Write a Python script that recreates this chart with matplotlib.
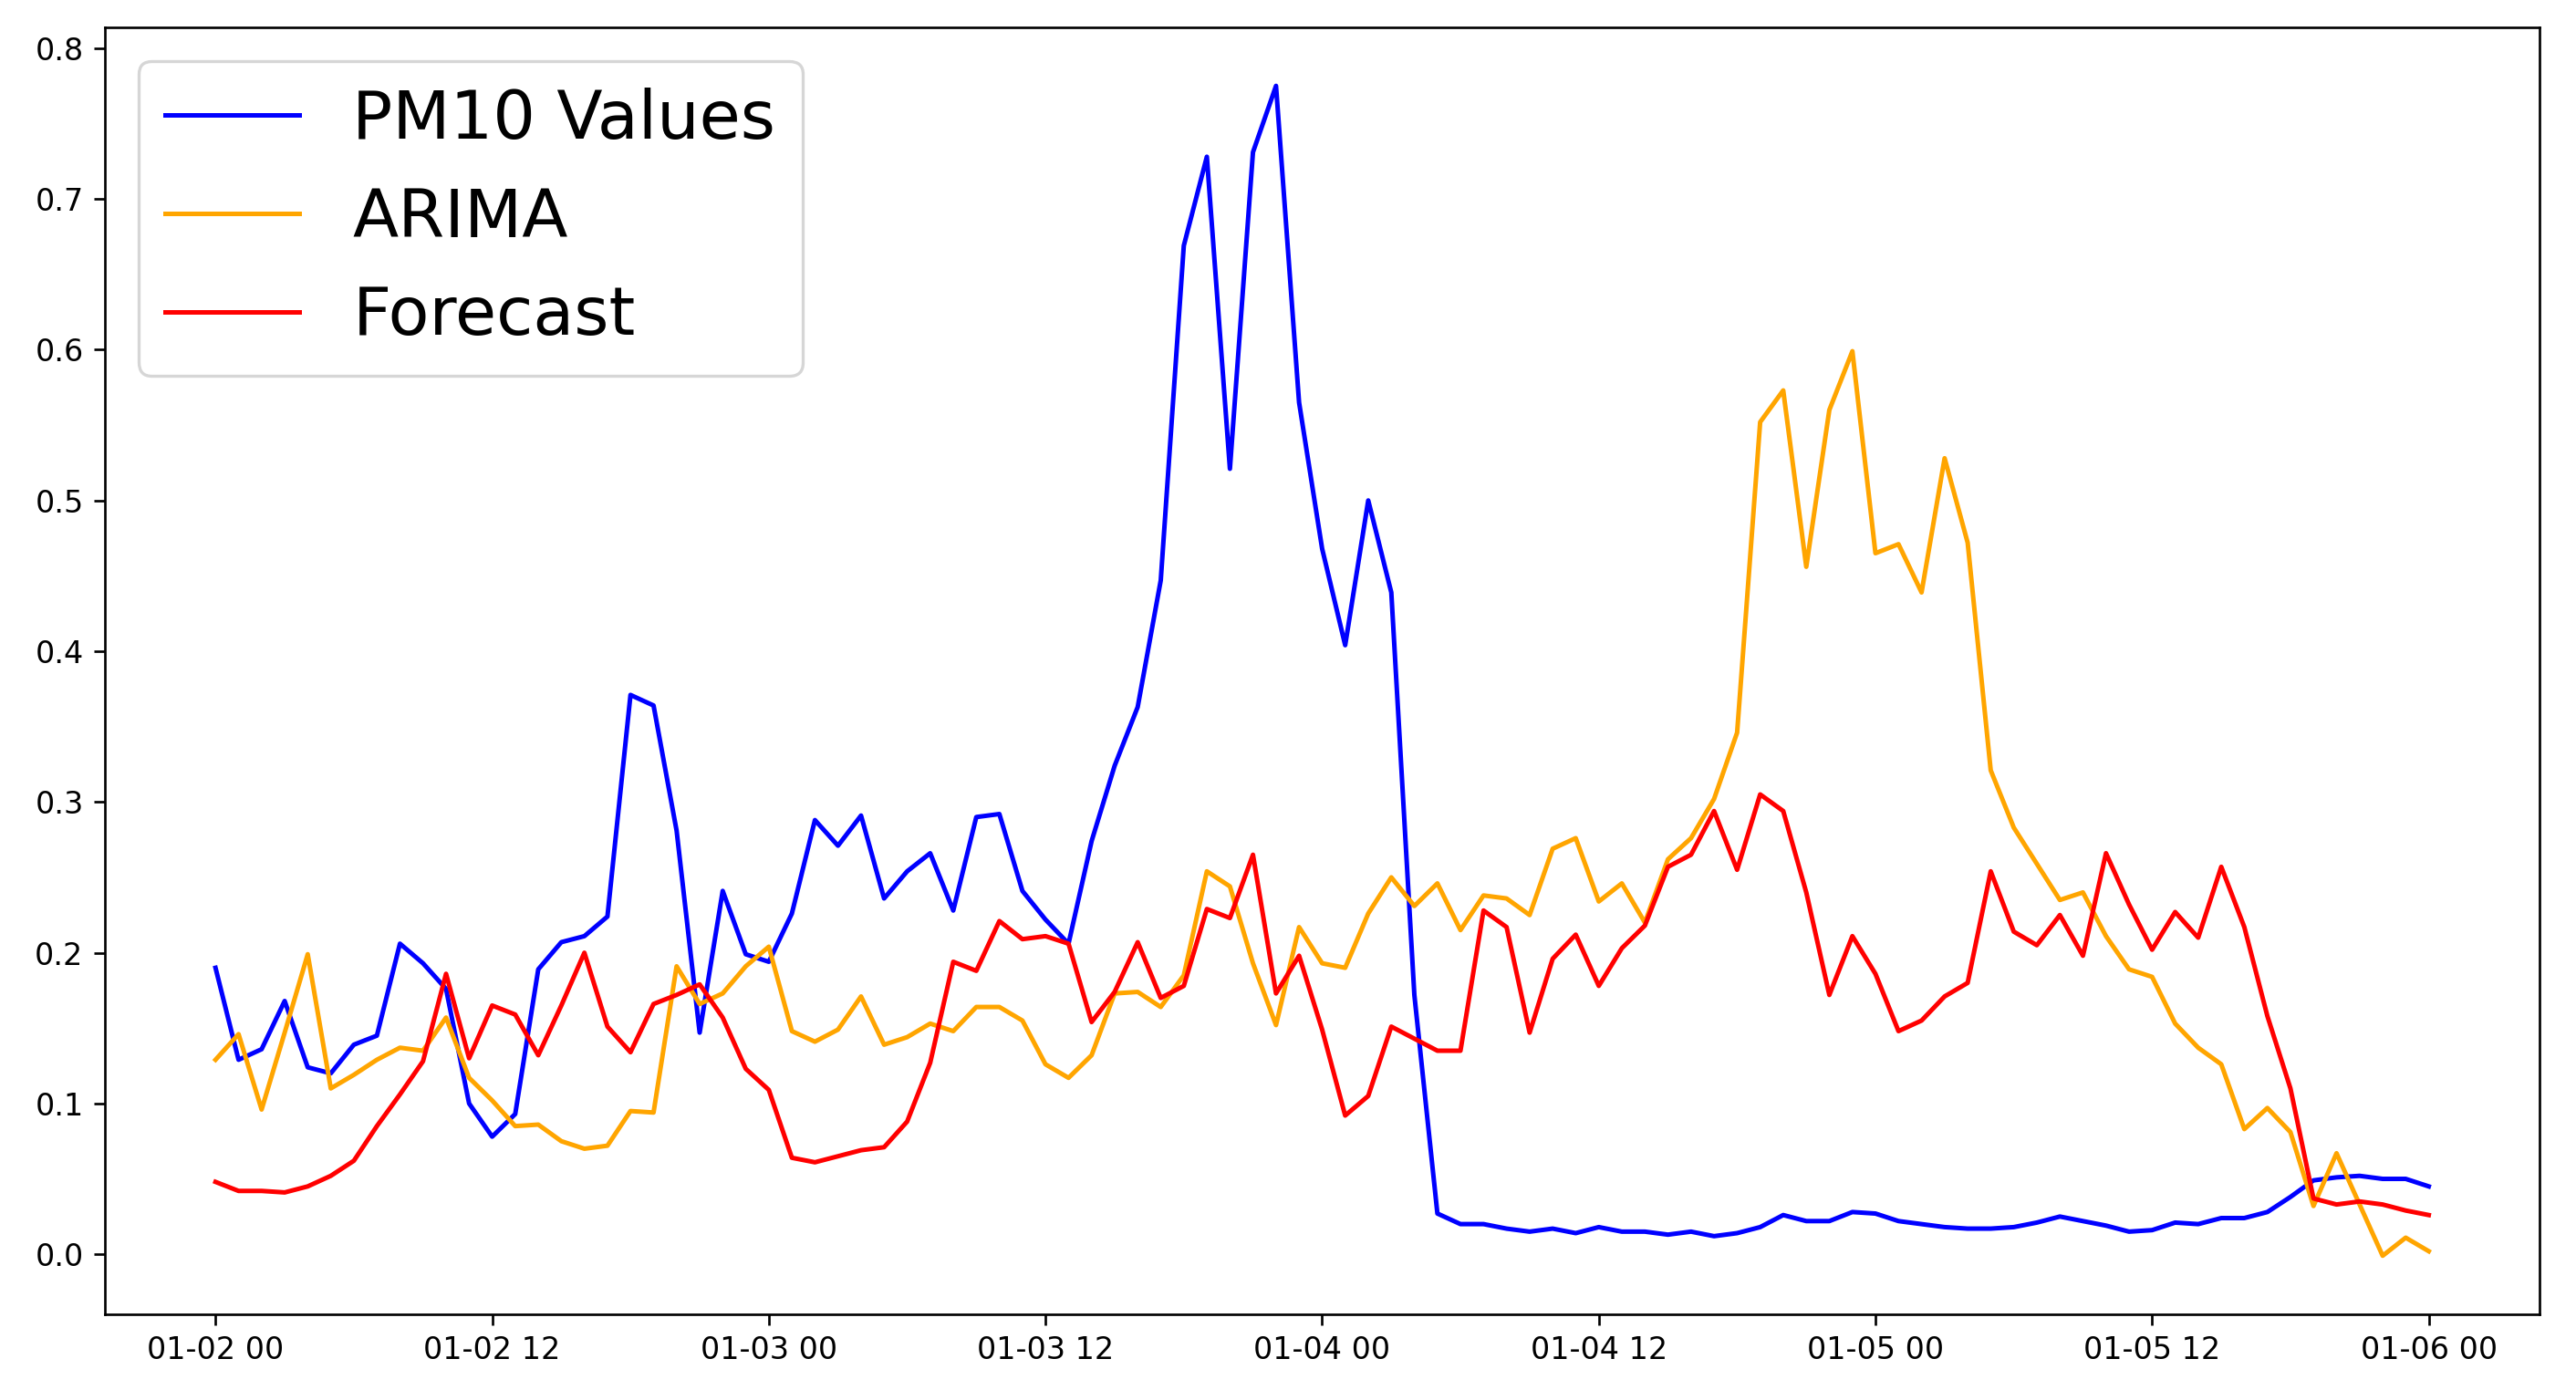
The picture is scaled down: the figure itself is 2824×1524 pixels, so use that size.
#!/usr/bin/env python3
# -*- coding: utf-8 -*-

# Hourly PM10 values against the ARIMA fit and the model forecast
import numpy as np
import pandas as pd
import matplotlib
matplotlib.use("Agg")
import matplotlib.pyplot as plt
import matplotlib.dates as mdates

# Hourly time stamps, 01-02 00 to 01-06 00
Start = "2019-01-02 00:00"
N_Hours = 97

# Measured (normalised) PM10 values
PM10 = [0.190, 0.129, 0.136, 0.168, 0.124, 0.120, 0.139, 0.145, 0.206, 0.193,
        0.176, 0.100, 0.078, 0.093, 0.189, 0.207, 0.211, 0.224, 0.371, 0.364,
        0.281, 0.147, 0.241, 0.199, 0.194, 0.226, 0.288, 0.271, 0.291, 0.236,
        0.254, 0.266, 0.228, 0.290, 0.292, 0.241, 0.222, 0.206, 0.274, 0.324,
        0.363, 0.447, 0.669, 0.728, 0.521, 0.731, 0.775, 0.565, 0.468, 0.404,
        0.500, 0.439, 0.172, 0.027, 0.020, 0.020, 0.017, 0.015, 0.017, 0.014,
        0.018, 0.015, 0.015, 0.013, 0.015, 0.012, 0.014, 0.018, 0.026, 0.022,
        0.022, 0.028, 0.027, 0.022, 0.020, 0.018, 0.017, 0.017, 0.018, 0.021,
        0.025, 0.022, 0.019, 0.015, 0.016, 0.021, 0.020, 0.024, 0.024, 0.028,
        0.038, 0.049, 0.051, 0.052, 0.050, 0.050, 0.045]

# ARIMA model output
ARIMA = [0.129, 0.146, 0.096, 0.147, 0.199, 0.110, 0.119, 0.129, 0.137, 0.135,
         0.157, 0.117, 0.102, 0.085, 0.086, 0.075, 0.070, 0.072, 0.095, 0.094,
         0.191, 0.166, 0.173, 0.191, 0.204, 0.148, 0.141, 0.149, 0.171, 0.139,
         0.144, 0.153, 0.148, 0.164, 0.164, 0.155, 0.126, 0.117, 0.132, 0.173,
         0.174, 0.164, 0.185, 0.254, 0.244, 0.193, 0.152, 0.217, 0.193, 0.190,
         0.226, 0.250, 0.231, 0.246, 0.215, 0.238, 0.236, 0.225, 0.269, 0.276,
         0.234, 0.246, 0.220, 0.262, 0.276, 0.302, 0.346, 0.552, 0.573, 0.456,
         0.560, 0.599, 0.465, 0.471, 0.439, 0.528, 0.472, 0.321, 0.283, 0.259,
         0.235, 0.240, 0.211, 0.189, 0.184, 0.153, 0.137, 0.126, 0.083, 0.097,
         0.081, 0.032, 0.067, 0.033, -0.001, 0.011, 0.002]

# Forecast
Forecast = [0.048, 0.042, 0.042, 0.041, 0.045, 0.052, 0.062, 0.085, 0.106, 0.128,
            0.186, 0.130, 0.165, 0.159, 0.132, 0.165, 0.200, 0.151, 0.134, 0.166,
            0.172, 0.179, 0.157, 0.123, 0.109, 0.064, 0.061, 0.065, 0.069, 0.071,
            0.088, 0.127, 0.194, 0.188, 0.221, 0.209, 0.211, 0.206, 0.154, 0.174,
            0.207, 0.170, 0.178, 0.229, 0.223, 0.265, 0.173, 0.198, 0.149, 0.092,
            0.105, 0.151, 0.143, 0.135, 0.135, 0.228, 0.217, 0.147, 0.196, 0.212,
            0.178, 0.203, 0.218, 0.257, 0.265, 0.294, 0.255, 0.305, 0.294, 0.240,
            0.172, 0.211, 0.186, 0.148, 0.155, 0.171, 0.180, 0.254, 0.214, 0.205,
            0.225, 0.198, 0.266, 0.232, 0.202, 0.227, 0.210, 0.257, 0.217, 0.158,
            0.110, 0.037, 0.033, 0.035, 0.033, 0.029, 0.026]

Times = pd.date_range(Start, periods=N_Hours, freq="h")

# 2824 x 1524 px at 240 dpi
fig = plt.figure(figsize=(2824 / 240, 1524 / 240), dpi=240)
ax = fig.add_axes([0.0407, 0.0545, 0.9451, 0.9258])
ax.plot(Times, PM10, color="blue", label="PM10 Values")
ax.plot(Times, ARIMA, color="orange", label="ARIMA")
ax.plot(Times, Forecast, color="red", label="Forecast")

ax.xaxis.set_major_locator(mdates.HourLocator(byhour=[0, 12]))
ax.xaxis.set_major_formatter(mdates.DateFormatter("%m-%d %H"))
ax.legend(loc="upper left", fontsize=22)

plt.savefig("out.png", dpi=240)
